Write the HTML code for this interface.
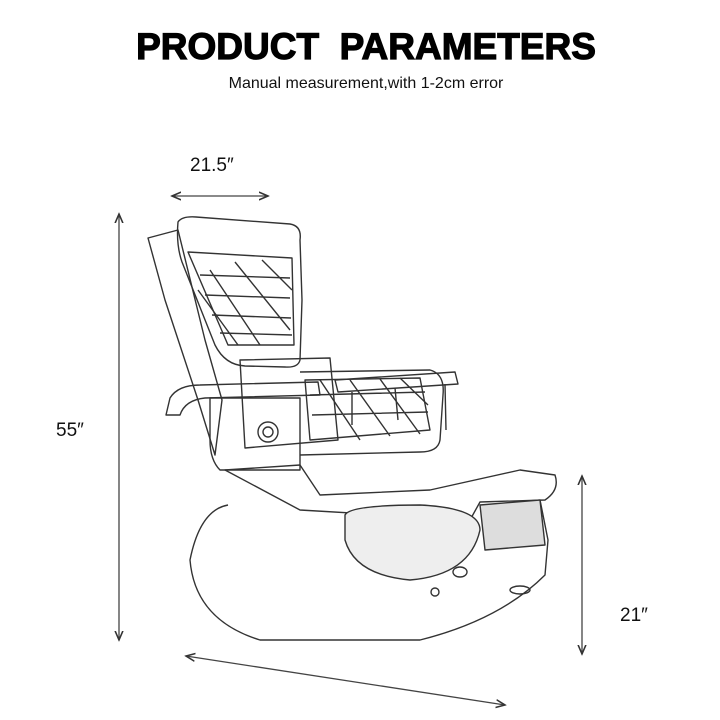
<!DOCTYPE html>
<html><head><meta charset="utf-8"><style>
html,body{margin:0;padding:0;background:#fff;}
body{width:720px;height:720px;position:relative;overflow:hidden;font-family:"Liberation Sans",Arial,sans-serif;}
.t{position:absolute;left:0;width:732px;text-align:center;top:26px;font-size:37px;font-weight:900;letter-spacing:0px;color:#000;-webkit-text-stroke:1.2px #000;}
.s{position:absolute;left:0;width:732px;text-align:center;top:75px;font-size:16px;color:#111;}
.d{position:absolute;font-size:19px;color:#111;}
</style></head><body>
<div class="t">PRODUCT&nbsp;&nbsp;PARAMETERS</div>
<div class="s">Manual measurement,with 1-2cm error</div>
<div class="d" style="left:190px;top:155px">21.5″</div>
<div class="d" style="left:56px;top:420px">55″</div>
<div class="d" style="left:620px;top:605px">21″</div>
<svg width="720" height="720" style="position:absolute;left:0;top:0">
<defs><marker id="a" markerWidth="8" markerHeight="8" refX="7" refY="4" orient="auto-start-reverse"><path d="M0,1 L7,4 L0,7" fill="none" stroke="#333" stroke-width="1.2"/></marker></defs>
<g stroke="#444" stroke-width="1.3" fill="none">
<line x1="172" y1="196" x2="268" y2="196" marker-start="url(#a)" marker-end="url(#a)"/>
<line x1="119" y1="214" x2="119" y2="640" marker-start="url(#a)" marker-end="url(#a)"/>
<line x1="582" y1="476" x2="582" y2="654" marker-start="url(#a)" marker-end="url(#a)"/>
<line x1="186" y1="656" x2="505" y2="705" marker-start="url(#a)" marker-end="url(#a)"/>
</g>
<g stroke="#333" stroke-width="1.4" fill="none" stroke-linejoin="round">
<path d="M178,222 Q182,216 196,217 L290,224 Q302,226 300,240 L302,300 L300,360 Q298,368 285,367 L245,366 Q225,365 215,345 L182,262 Q176,245 178,222 Z"/>
<path d="M148,238 L178,230 L205,340 L222,400 L215,455 L198,400 L165,300 Z"/>
<path d="M188,252 L292,258 L294,345 L228,345 Z"/>
<path d="M200,275 L290,278 M205,295 L290,298 M212,315 L291,318 M220,333 L292,335"/>
<path d="M210,270 L260,345 M235,262 L290,330 M262,260 L292,290 M198,290 L238,345"/>
<path d="M240,360 L330,358 L338,440 L245,448 Z"/>
<path d="M300,372 L430,370 Q445,374 443,395 L440,440 Q438,452 420,452 L300,455"/>
<path d="M305,380 L420,378 L430,430 L310,440 Z"/>
<path d="M310,395 L425,392 M312,415 L428,412 M320,380 L360,440 M350,380 L390,436 M380,379 L420,434 M400,378 L428,405"/>
<path d="M166,415 L170,398 Q178,385 200,385 L318,382 L320,395 L205,398 Q185,400 180,415 Z"/>
<path d="M210,398 L300,398 L300,470 L220,470 Q210,460 210,440 Z"/>
<circle cx="268" cy="432" r="10"/><circle cx="268" cy="432" r="5"/>
<path d="M335,380 L455,372 L458,384 L338,392 Z"/>
<path d="M352,392 L352,425 M445,384 L446,430 M395,388 L398,420"/>
<path d="M225,470 L300,465 L320,495 L430,490 L520,470 L555,475 Q560,490 545,500 L480,502 L470,520 L300,510 Z"/>
<path d="M228,505 Q200,510 190,560 Q195,620 260,640 L420,640 Q500,620 545,575 L548,540 L540,500"/>
<path d="M345,515 Q350,505 420,505 Q480,508 480,530 Q470,575 410,580 Q355,575 345,540 Z" fill="#eee"/>
<path d="M480,505 L540,500 L545,545 L485,550 Z" fill="#ddd"/>
<ellipse cx="460" cy="572" rx="7" ry="5"/><ellipse cx="520" cy="590" rx="10" ry="4"/>
<circle cx="435" cy="592" r="4"/>
</g>
</svg>
</body></html>
